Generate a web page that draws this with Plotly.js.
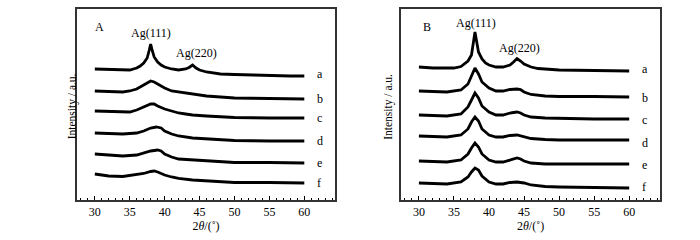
<!DOCTYPE html>
<html>
<head>
<meta charset="utf-8">
<script src="https://cdn.plot.ly/plotly-3.0.1.min.js"></script>
<style>html,body{margin:0;padding:0;background:#fff;}#chart{width:700px;height:240px;}</style>
</head>
<body>
<div id="chart"></div>
<script>
// Panel A (stacked intensity, a.u.)
const xA_a = [30,32,34,35,36,36.5,37,37.5,37.8,38,38.2,38.5,39,39.5,40,41,42,43,43.5,44,44.5,45,46,47,48,50,52,54,56,58,60];
const yA_a = [131,130.5,130,130,132,134,137,142,150,156,150,143,138,135,133,131,130,131,132.5,135,132,130,128,127,126,125.5,125,124.5,124.5,124,124];
const xA_b = [30,32,34,35,36,37,37.5,38,38.5,39,40,41,42,43,44,45,46,48,50,55,60];
const yA_b = [109,108.5,108,109,111,115,117,119,118,116,112,109,108,107,106,105,104,103,102,101.5,101];
const xA_c = [30,33,35,36,37,37.5,38,38.5,39,40,41,42,43,44,46,48,50,55,60];
const yA_c = [89,88,88,90,93,95,96,96,94,91,89,87,86,85,84,83,82.5,82,82];
const xA_d = [30,34,36,37,38,38.8,39.5,40,41,42,44,46,48,50,55,60];
const yA_d = [67,66,67,69,72,73,72,69,66,64,62,61,60,59.5,59,59];
const xA_e = [30,32,34,36,37,38,39,39.5,40,41,42,44,46,48,50,55,60];
const yA_e = [46,45,44,45,47,49,50,49,46,43,41,40,39,38,37.5,37.5,37];
const xA_f = [30,32,34,36,37,38,38.5,39,40,41,42,44,46,48,50,55,60];
const yA_f = [26,24,23.5,25,26.5,28.5,29,28,25,23,21.5,20,19,18,17.5,17.5,17];

// Panel B
const xB_a = [30,32,34,35,36,36.5,37,37.5,37.8,38,38.2,38.5,39,39.5,40,41,42,43,43.5,44,44.5,45,46,47,48,50,55,60];
const yB_a = [133,132,132,132,133.5,136,139,145,158,168,160,148,141,137,135,133,133,135,138,141.5,139,136,133,131.5,131,130,129.5,129];
const xB_b = [30,34,36,37,37.5,38,38.5,39,40,41,42,43,44,44.5,45,46,48,50,55,60];
const yB_b = [109,108,110,116,124,132,126,118,112,109,109,110.5,111,110.5,108,105.5,104,103.5,103.5,103];
const xB_c = [30,34,36,37,37.5,38,38.5,39,40,41,42,43,44,44.5,45,46,48,50,55,60];
const yB_c = [85,84,86,93,100,107,102,94,88,85,85,87,88,87,85,83,82,81.5,81,81];
const xB_d = [30,34,36,37,37.5,38,38.5,39,40,41,42,43,44,45,46,48,50,55,60];
const yB_d = [64,63,65,71,78,83,79,71,65,63,63,64.5,65,63.5,61.5,60.5,60,60,60];
const xB_e = [30,34,36,37,37.5,38,38.5,39,40,41,42,43,44,44.5,45,46,48,55,60];
const yB_e = [39,38,40,46,52,57,53,46,40,38,38,40,42,41,39,37,36,36,36];
const xB_f = [30,34,36,37,37.5,38,38.5,39,40,41,42,43,44,45,46,48,50,55,60];
const yB_f = [17,16,18,23,28,32,30,24,18,16,16,17.5,18,17,15,13.5,13,12.5,12];

const curveNames = ['a','b','c','d','e','f'];
const labelYA = [126,101,82,59,37,17];
const labelYB = [131,102,80,57,35,13];
const xTickVals = [30,35,40,45,50,55,60];

const seriesA = [[xA_a,yA_a],[xA_b,yA_b],[xA_c,yA_c],[xA_d,yA_d],[xA_e,yA_e],[xA_f,yA_f]];
const seriesB = [[xB_a,yB_a],[xB_b,yB_b],[xB_c,yB_c],[xB_d,yB_d],[xB_e,yB_e],[xB_f,yB_f]];

const FONT = 'Liberation Serif, Times New Roman, serif';
const traces = [];
seriesA.forEach((s,i)=>traces.push({x:s[0],y:s[1],xaxis:'x',yaxis:'y',mode:'lines',name:curveNames[i],line:{color:'#000',width:2.8},hoverinfo:'skip'}));
seriesB.forEach((s,i)=>traces.push({x:s[0],y:s[1],xaxis:'x2',yaxis:'y2',mode:'lines',name:curveNames[i],line:{color:'#000',width:2.8},hoverinfo:'skip'}));

function xax(domain, anchor){
  return {domain:domain, anchor:anchor, range:[27.45,64.4], tickvals:xTickVals, ticks:'inside', ticklen:4, tickwidth:1,
    tickcolor:'#000', showline:true, linecolor:'#333', linewidth:1.6, mirror:true, showgrid:false, zeroline:false,
    minor:{dtick:1, tick0:0, ticks:'inside', ticklen:2, tickcolor:'#000', showgrid:false},
    tickfont:{family:FONT,size:12,color:'#000'},
    title:{text:'2<i>θ</i>/(˚)', font:{family:FONT,size:12,color:'#000'}, standoff:0}};
}
function yax(anchor){
  return {domain:[0.1667,0.9625], anchor:anchor, range:[0,191], showticklabels:false, ticks:'', showline:true,
    linecolor:'#333', linewidth:1.6, mirror:true, showgrid:false, zeroline:false};
}

const ann = [];
curveNames.forEach((n,i)=>{
  ann.push({xref:'x',yref:'y',x:61.5,y:labelYA[i],text:n,showarrow:false,xanchor:'left',font:{family:FONT,size:12,color:'#000'}});
  ann.push({xref:'x2',yref:'y2',x:61.5,y:labelYB[i],text:n,showarrow:false,xanchor:'left',font:{family:FONT,size:12,color:'#000'}});
});
const txt = (xr,yr,x,y,t)=>({xref:xr,yref:yr,x:x,y:y,text:t,showarrow:false,font:{family:FONT,size:12,color:'#000'}});
ann.push(txt('x','y',30.7,173,'A'));
ann.push(txt('x','y',38,167,'Ag(111)'));
ann.push(txt('x','y',44.6,147,'Ag(220)'));
ann.push(txt('x2','y2',31.1,173,'B'));
ann.push(txt('x2','y2',38.1,177,'Ag(111)'));
ann.push(txt('x2','y2',44.3,152,'Ag(220)'));
ann.push({xref:'paper',yref:'paper',x:64/700,y:0.555,text:'Intensity / a.u.',textangle:-90,showarrow:false,font:{family:FONT,size:11.5,color:'#000'}});
ann.push({xref:'paper',yref:'paper',x:389/700,y:0.555,text:'Intensity / a.u.',textangle:-90,showarrow:false,font:{family:FONT,size:11.5,color:'#000'}});

const layout = {
  width:700, height:240, margin:{l:0,r:0,t:0,b:0}, showlegend:false,
  paper_bgcolor:'#fff', plot_bgcolor:'#fff',
  xaxis:xax([0.11,0.4786],'y'), yaxis:yax('x'),
  xaxis2:xax([0.5729,0.9429],'y2'), yaxis2:yax('x2'),
  annotations:ann
};
Plotly.newPlot('chart', traces, layout, {staticPlot:true});
</script>
</body>
</html>
